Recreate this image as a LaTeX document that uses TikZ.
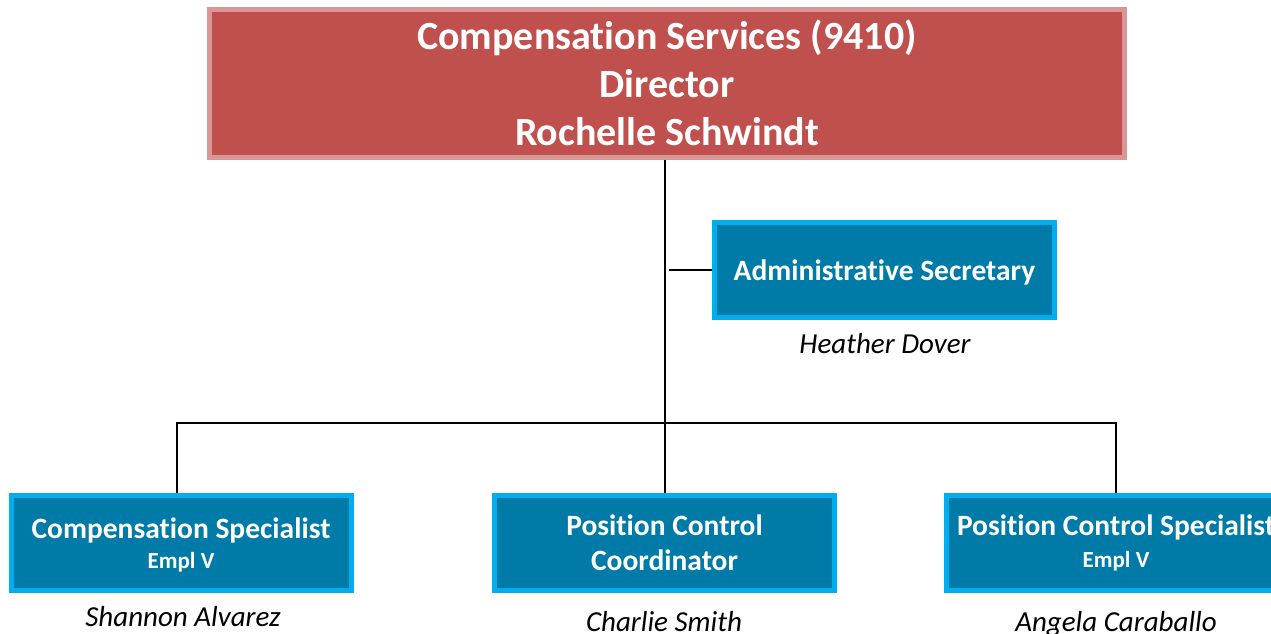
\documentclass[tikz,border=0pt]{standalone}
\usepackage{fontspec}
\setmainfont{Carlito}[RawFeature={-liga;-clig;-calt;-dlig}]
\definecolor{topfill}{HTML}{C0504D}
\definecolor{topline}{HTML}{D99694}
\definecolor{bluefill}{HTML}{007BA7}
\definecolor{blueline}{HTML}{00AEEF}
\tikzset{
  topbox/.style={draw=topline, fill=topfill, line width=5pt, inner sep=0pt, minimum width=915pt, minimum height=148pt},
  bluebox/.style={draw=blueline, fill=bluefill, line width=5pt, inner sep=0pt, minimum width=340pt, minimum height=95pt},
  ttxt/.style={text=white, font=\fontsize{40}{48}\selectfont\bfseries, anchor=base, inner sep=0pt},
  btxt/.style={text=white, font=\fontsize{29.5}{35}\selectfont\bfseries, anchor=base, inner sep=0pt},
  stxt/.style={text=white, font=\fontsize{23}{28}\selectfont\bfseries, anchor=base, inner sep=0pt},
  ntxt/.style={text=black, font=\fontsize{29}{35}\selectfont\itshape, anchor=base, inner sep=0pt},
  conn/.style={draw=black, line width=2pt}
}
\begin{document}
\begin{tikzpicture}[x=1pt,y=-1pt]
\useasboundingbox (0,0) rectangle (1271,634);
% boxes
\node[topbox] (top) at (667,83.5) {};
\node[bluebox] (admin) at (884.5,270) {};
\node[bluebox] (b1) at (181,543) {};
\node[bluebox] (b2) at (664.5,543) {};
\node[bluebox] (b3) at (1116,543) {};
% connectors
\coordinate (bus) at (664.5,423);
\draw[conn] (top.south -| b2.north) -- (b2.north);
\draw[conn] ([xshift=-4pt]b1.north) |- (bus) -| (b3.north);
\draw[conn] (admin.west) -- ([xshift=4pt]admin.west -| b2.north);
% texts
\node[ttxt] (t1) at (667,49) {Compensation Services (9410)};
\node[ttxt] (t2) at (667,97) {Director};
\node[ttxt] (t3) at (667,145) {Rochelle Schwindt};
\node[btxt] (at) at (884.5,280) {Administrative Secretary};
\node[ntxt] (an) at (885,353) {Heather Dover};
\node[btxt] (b1a) at (181,538) {Compensation Specialist};
\node[stxt] (b1b) at (181,568) {Empl V};
\node[ntxt] (b1n) at (183,626) {Shannon Alvarez};
\node[btxt] (b2a) at (664.5,535) {Position Control};
\node[btxt] (b2b) at (664.5,570) {Coordinator};
\node[ntxt] (b2n) at (664,631) {Charlie Smith};
\node[btxt] (b3a) at (1116,535) {Position Control Specialist};
\node[stxt] (b3b) at (1116,567) {Empl V};
\node[ntxt] (b3n) at (1116,631) {Angela Caraballo};
\end{tikzpicture}
\end{document}
